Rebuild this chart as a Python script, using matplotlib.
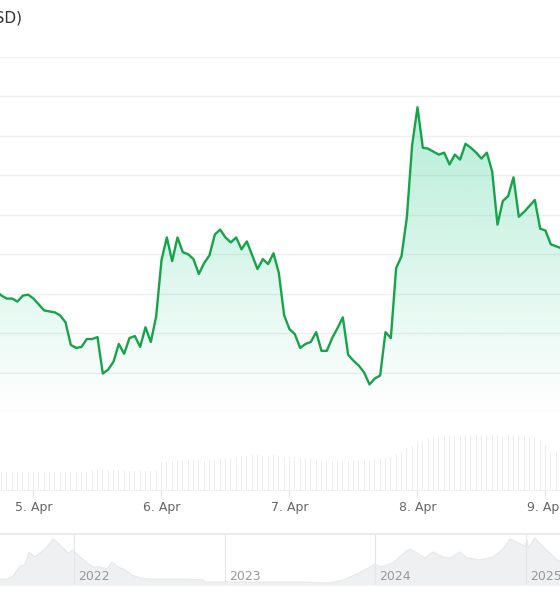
import numpy as np
import matplotlib
matplotlib.use("Agg")
import matplotlib.pyplot as plt
from matplotlib.colors import to_rgb

# ---------------------------------------------------- #
# hourly price, hours counted from 5 Apr 00:00
hours = list(range(-7, 100))
prices = [
    883, 878, 875, 875, 872, 878, 879,
    875, 869, 863, 862, 861, 858, 851, 828, 825, 826, 834, 834,
    836, 799, 803, 811, 829, 819, 835, 837, 826, 846, 831, 857,
    914, 937, 913, 937, 922, 920, 915, 900, 911, 919, 940, 945,
    937, 932, 937, 925, 933, 919, 905, 915, 910, 921, 901, 858,
    844, 839, 825, 829, 831, 841, 822, 822, 835, 845, 856, 818,
    812, 807, 800, 788, 794, 797, 841, 835, 906, 918, 957, 1031,
    1069, 1028, 1027, 1024, 1021, 1023, 1011, 1021, 1016, 1032, 1028, 1023,
    1017, 1023, 1004, 950, 974, 979, 998, 958, 963, 969, 975, 946,
    944, 930, 928, 926,
]
volumes = [
    18, 18, 18, 18, 18, 18, 18,
    18, 18, 18, 18, 18, 18, 18, 18, 18, 18, 18,
    20, 20, 21, 20, 20,
    19, 19, 19, 19, 19, 19, 19, 19,
    27, 28,
    29, 29, 30, 30, 30, 30, 29, 30, 30, 31, 31, 32,
    33, 34, 34, 35, 35, 34, 34, 35, 34, 33, 33, 33, 32, 32, 31,
    30, 29, 29, 29, 29, 29, 29,
    29, 30, 30, 30, 31, 31, 32, 33,
    36, 38, 42, 44, 48, 50,
    52, 53, 53, 54, 54, 54, 54, 55, 55, 55, 55, 55, 55, 55, 54, 55,
    55, 55, 54, 53, 52, 50,
    45, 38, 38, 38,
]
day_ticks = [0, 24, 48, 72, 96]
day_labels = ["5. Apr", "6. Apr", "7. Apr", "8. Apr", "9. Apr"]

# navigator: long-range history (fractional years)
nav_years = [
    2021.508, 2021.555, 2021.595, 2021.64, 2021.674, 2021.70, 2021.74, 2021.774,
    2021.82, 2021.86, 2021.894, 2021.927, 2021.96, 2021.993, 2022.04, 2022.086,
    2022.126, 2022.173, 2022.219, 2022.252, 2022.292, 2022.339, 2022.385, 2022.439,
    2022.485, 2022.618, 2022.751, 2022.857, 2022.87, 2023.017, 2023.169, 2023.369,
    2023.502, 2023.701, 2023.787, 2023.88, 2023.967, 2024.0, 2024.033, 2024.12,
    2024.2, 2024.233, 2024.279, 2024.332, 2024.385, 2024.452, 2024.498, 2024.565,
    2024.611, 2024.698, 2024.784, 2024.844, 2024.897, 2024.95, 2024.997, 2025.01,
    2025.017, 2025.063, 2025.116, 2025.163, 2025.209, 2025.229,
]
nav_values = [
    3, 3, 4.5, 9.5, 10, 16.5, 14, 16,
    19, 23, 21, 18.5, 16, 17.5, 14, 11,
    9, 9, 8, 11.5, 9, 7.5, 5, 3.5,
    3, 3, 3, 2.5, 1.5, 1.5, 1.5, 1.5,
    1.5, 1, 2.5, 5.5, 9, 10.5, 9, 11,
    16.5, 18, 16, 13.5, 16.5, 14, 13.5, 16.5,
    13.5, 12.5, 14, 17.5, 23, 21, 19.5, 22.5,
    18.5, 23.5, 19, 16, 12.5, 12,
]
year_marks = [2022, 2023, 2024, 2025]

LINE = "#17a34a"
FILL = "#16c784"
GRID = "#efefef"

# ---------------------------------------------------- #
fig = plt.figure(figsize=(5.6, 6.0), dpi=100)
H = 600.0
xlim = (-6.28, 98.72)

# main price panel
ax = fig.add_axes([0, (H - 412) / H, 1, (412 - 57) / H])
ax.set_xlim(*xlim)
ax.set_ylim(760, 1120)
ax.set_yticks(np.arange(760, 1121, 40))
ax.grid(axis="y", color=GRID, lw=1)
ax.set_axisbelow(True)
ax.tick_params(left=False, labelleft=False, bottom=False, labelbottom=False)
for s in ax.spines.values():
    s.set_visible(False)

poly = ax.fill_between(hours, prices, 760, color="none", lw=0)
grad = np.zeros((256, 1, 4))
grad[..., :3] = to_rgb(FILL)
grad[..., 3] = np.linspace(0.0, 0.32, 256).reshape(-1, 1)
im = ax.imshow(grad, extent=[xlim[0], xlim[1], 760, max(prices)],
               origin="lower", aspect="auto", zorder=1)
im.set_clip_path(poly.get_paths()[0], transform=ax.transData)
ax.plot(hours, prices, color=LINE, lw=1.7, zorder=3, solid_joinstyle="round")

fig.text(22 / 560, 1 - 18 / H, "Price (USD)", ha="right", va="center",
         fontsize=11, color="#333333")

# volume panel
axv = fig.add_axes([0, (H - 490) / H, 1, 60 / H])
axv.set_xlim(*xlim)
axv.set_ylim(0, 60)
axv.bar(hours, volumes, width=0.2, color="#ececec", lw=0)
axv.set_yticks([])
for k in ["left", "right", "top"]:
    axv.spines[k].set_visible(False)
axv.spines["bottom"].set_color("#f0f0f0")
axv.set_xticks(day_ticks)
axv.set_xticklabels(day_labels, fontsize=9, color="#666666")
axv.tick_params(axis="x", length=5, color="#e2e2e2", pad=3)

# navigator
axn = fig.add_axes([0, (H - 585) / H, 1, 51 / H])
axn.set_xlim(2021.508, 2025.229)
axn.set_ylim(0, 25.5)
axn.fill_between(nav_years, nav_values, 0, color="#eef0f2", lw=0)
axn.plot(nav_years, nav_values, color="#e6e8eb", lw=0.8)
for yr in year_marks:
    axn.axvline(yr, color="#e6e6e6", lw=0.8)
    axn.text(yr + 0.03, 1.2, str(yr), fontsize=9, color="#999999",
             ha="left", va="bottom")
axn.set_xticks([])
axn.set_yticks([])
for k in ["left", "right"]:
    axn.spines[k].set_visible(False)
axn.spines["top"].set_color("#ebebeb")
axn.spines["top"].set_linewidth(1.5)
axn.spines["bottom"].set_color("#f4f4f4")

fig.savefig("out.png", dpi=100)
